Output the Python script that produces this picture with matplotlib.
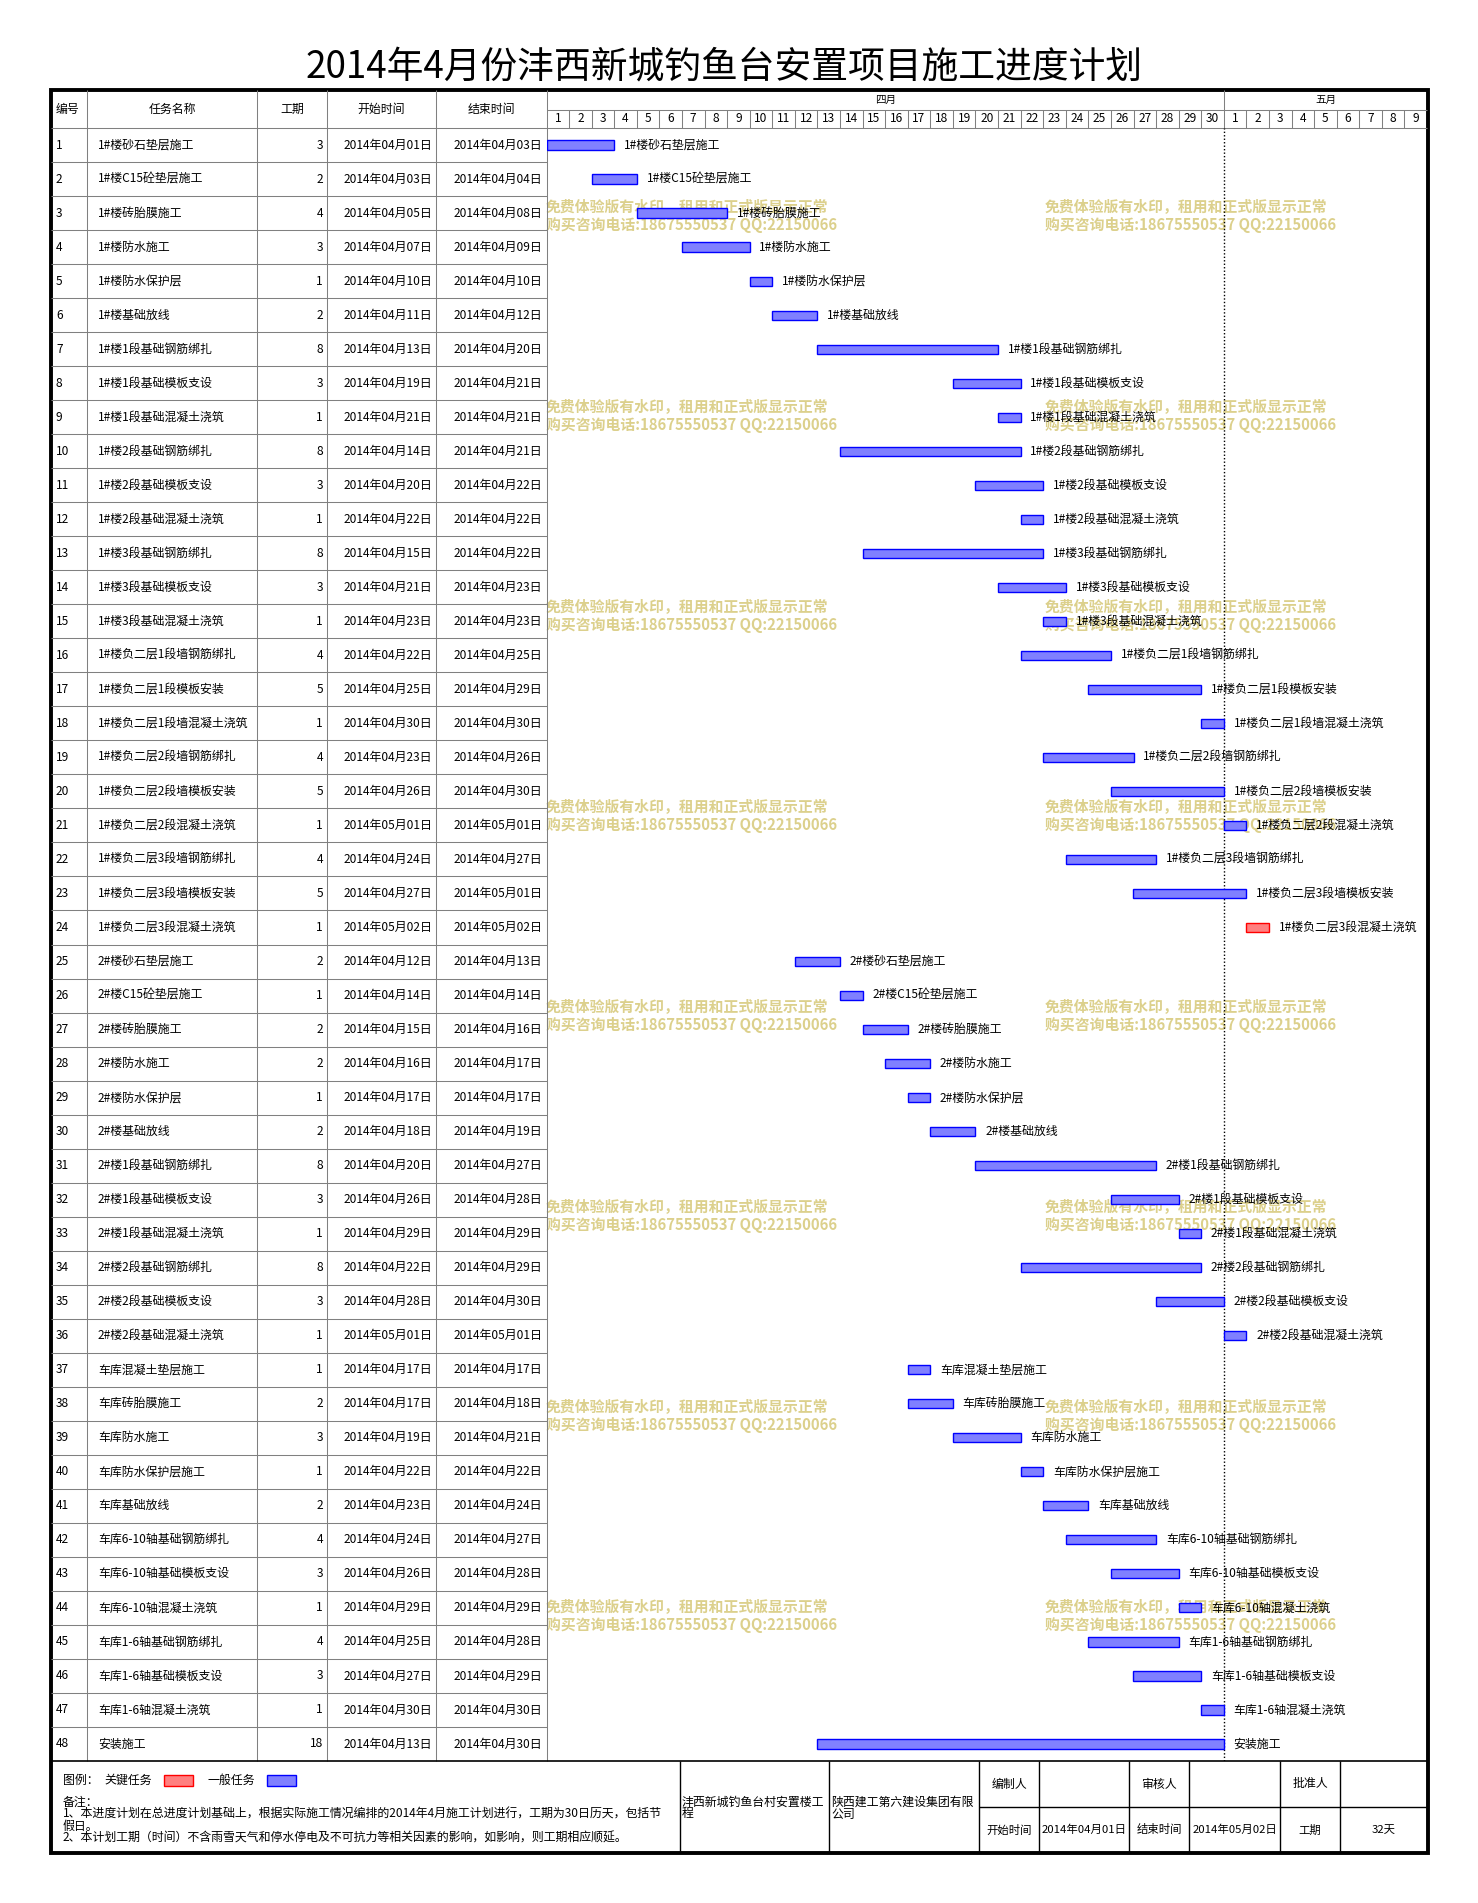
import matplotlib.pyplot as plt
from matplotlib.patches import Rectangle

plt.rcParams['font.family'] = ['Noto Sans CJK SC', 'DejaVu Sans']

# ---- data ----
title = "2014年4月份沣西新城钓鱼台安置项目施工进度计划"

task_names = [
    "1#楼砂石垫层施工", "1#楼C15砼垫层施工", "1#楼砖胎膜施工", "1#楼防水施工",
    "1#楼防水保护层", "1#楼基础放线", "1#楼1段基础钢筋绑扎", "1#楼1段基础模板支设",
    "1#楼1段基础混凝土浇筑", "1#楼2段基础钢筋绑扎", "1#楼2段基础模板支设", "1#楼2段基础混凝土浇筑",
    "1#楼3段基础钢筋绑扎", "1#楼3段基础模板支设", "1#楼3段基础混凝土浇筑", "1#楼负二层1段墙钢筋绑扎",
    "1#楼负二层1段模板安装", "1#楼负二层1段墙混凝土浇筑", "1#楼负二层2段墙钢筋绑扎", "1#楼负二层2段墙模板安装",
    "1#楼负二层2段混凝土浇筑", "1#楼负二层3段墙钢筋绑扎", "1#楼负二层3段墙模板安装", "1#楼负二层3段混凝土浇筑",
    "2#楼砂石垫层施工", "2#楼C15砼垫层施工", "2#楼砖胎膜施工", "2#楼防水施工",
    "2#楼防水保护层", "2#楼基础放线", "2#楼1段基础钢筋绑扎", "2#楼1段基础模板支设",
    "2#楼1段基础混凝土浇筑", "2#楼2段基础钢筋绑扎", "2#楼2段基础模板支设", "2#楼2段基础混凝土浇筑",
    "车库混凝土垫层施工", "车库砖胎膜施工", "车库防水施工", "车库防水保护层施工",
    "车库基础放线", "车库6-10轴基础钢筋绑扎", "车库6-10轴基础模板支设", "车库6-10轴混凝土浇筑",
    "车库1-6轴基础钢筋绑扎", "车库1-6轴基础模板支设", "车库1-6轴混凝土浇筑", "安装施工",
]
durations = [3, 2, 4, 3, 1, 2, 8, 3, 1, 8, 3, 1, 8, 3, 1, 4, 5, 1, 4, 5, 1, 4, 5, 1,
             2, 1, 2, 2, 1, 2, 8, 3, 1, 8, 3, 1, 1, 2, 3, 1, 2, 4, 3, 1, 4, 3, 1, 18]
start_dates = [
    "04-01", "04-03", "04-05", "04-07", "04-10", "04-11", "04-13", "04-19",
    "04-21", "04-14", "04-20", "04-22", "04-15", "04-21", "04-23", "04-22",
    "04-25", "04-30", "04-23", "04-26", "05-01", "04-24", "04-27", "05-02",
    "04-12", "04-14", "04-15", "04-16", "04-17", "04-18", "04-20", "04-26",
    "04-29", "04-22", "04-28", "05-01", "04-17", "04-17", "04-19", "04-22",
    "04-23", "04-24", "04-26", "04-29", "04-25", "04-27", "04-30", "04-13",
]
end_dates = [
    "04-03", "04-04", "04-08", "04-09", "04-10", "04-12", "04-20", "04-21",
    "04-21", "04-21", "04-22", "04-22", "04-22", "04-23", "04-23", "04-25",
    "04-29", "04-30", "04-26", "04-30", "05-01", "04-27", "05-01", "05-02",
    "04-13", "04-14", "04-16", "04-17", "04-17", "04-19", "04-27", "04-28",
    "04-29", "04-29", "04-30", "05-01", "04-17", "04-18", "04-21", "04-22",
    "04-24", "04-27", "04-28", "04-29", "04-28", "04-29", "04-30", "04-30",
]
critical_ids = [24]

month_names = ["四月", "五月"]
month_days = [30, 9]

header_cols = ["编号", "任务名称", "工期", "开始时间", "结束时间"]

watermark = ["免费体验版有水印，租用和正式版显示正常", "购买咨询电话:18675550537 QQ:22150066"]

legend_items = [("关键任务", "#ff8080", "#ff0000"), ("一般任务", "#8080ff", "#0000ff")]
notes = [
    "备注：",
    "1、本进度计划在总进度计划基础上，根据实际施工情况编排的2014年4月施工计划进行，工期为30日历天，包括节",
    "假日。",
    "2、本计划工期（时间）不含雨雪天气和停水停电及不可抗力等相关因素的影响，如影响，则工期相应顺延。",
]
project_name = ["沣西新城钓鱼台村安置楼工", "程"]
company_name = ["陕西建工第六建设集团有限", "公司"]
sign_top = ["编制人", "", "审核人", "", "批准人", ""]
sign_bottom = ["开始时间", "2014年04月01日", "结束时间", "2014年05月02日", "工期", "32天"]


def day_index(s):
    m, d = s.split("-")
    return int(d) if m == "04" else 30 + int(d)


def cn_date(s):
    m, d = s.split("-")
    return "2014年%s月%s日" % (m, d)


# ---- layout (pixels) ----
W, H = 1478, 1903
X0, X1 = 51, 1428
col_x = [51, 87, 257, 327, 436, 546.5]
G0, G1 = 546.5, 1427
Y_TOP, Y_MON, Y_HDR, Y_END, Y_BOT = 90, 110, 128, 1761, 1853
n_rows = len(task_names)
row_h = (Y_END - Y_HDR) / n_rows
n_days = sum(month_days)
dw = (G1 - G0) / n_days
GRAY = "#808080"
FS = 8.6

fig = plt.figure(figsize=(W / 100, H / 100), dpi=100)
base = fig.add_axes([0, 0, 1, 1])
base.set_xlim(0, W)
base.set_ylim(H, 0)
base.axis("off")


def hl(y, xa, xb, c=GRAY, lw=0.75):
    base.plot([xa, xb], [y, y], color=c, lw=lw, solid_capstyle="butt")


def vl(x, ya, yb, c=GRAY, lw=0.75):
    base.plot([x, x], [ya, yb], color=c, lw=lw, solid_capstyle="butt")


base.text(724, 67, title, fontsize=26.5, ha="center", va="center")

# watermark (behind everything)
for k in range(8):
    y = 207 + k * 200
    for wx in (546, 1045):
        base.text(wx, y, watermark[0], color="#dcd08c", fontsize=10.7, fontweight="bold",
                  ha="left", va="center", zorder=0)
        base.text(wx, y + 18, watermark[1], color="#dcd08c", fontsize=10.7, fontweight="bold",
                  ha="left", va="center", zorder=0)

# table grid
for x in col_x[1:]:
    vl(x, Y_TOP, Y_END)
for i in range(n_rows):
    hl(Y_HDR + i * row_h, X0, G0)
hl(Y_HDR, G0, G1)
hl(Y_MON, G0, G1)
for d in range(1, n_days):
    x = G0 + d * dw
    vl(x, Y_TOP if d == month_days[0] else Y_MON, Y_HDR)

# header text
hy = (Y_TOP + Y_HDR) / 2
base.text(col_x[0] + 5, hy, header_cols[0], fontsize=FS, ha="left", va="center")
for j in range(1, 5):
    base.text((col_x[j] + col_x[j + 1]) / 2, hy, header_cols[j], fontsize=FS, ha="center", va="center")
off = 0
for name, nd in zip(month_names, month_days):
    base.text(G0 + (off + nd / 2) * dw, (Y_TOP + Y_MON) / 2, name, fontsize=7.6, ha="center", va="center")
    for d in range(nd):
        base.text(G0 + (off + d + 0.5) * dw, (Y_MON + Y_HDR) / 2, str(d + 1), fontsize=FS,
                  ha="center", va="center")
    off += nd

# table rows
for i in range(n_rows):
    y = Y_HDR + (i + 0.5) * row_h
    base.text(col_x[0] + 5, y, str(i + 1), fontsize=FS, ha="left", va="center")
    base.text(col_x[1] + 11, y, task_names[i], fontsize=FS, ha="left", va="center")
    base.text(col_x[3] - 4, y, str(durations[i]), fontsize=FS, ha="right", va="center")
    base.text(col_x[4] - 4, y, cn_date(start_dates[i]), fontsize=FS, ha="right", va="center")
    base.text(col_x[5] - 4, y, cn_date(end_dates[i]), fontsize=FS, ha="right", va="center")

# gantt axes
gx = fig.add_axes([G0 / W, 1 - Y_END / H, (G1 - G0) / W, (Y_END - Y_HDR) / H])
gx.set_xlim(0, n_days)
gx.set_ylim(n_rows, 0)
gx.axis("off")
gx.axvline(month_days[0], color="black", ls=(0, (1, 1.5)), lw=1.0)
for i in range(n_rows):
    s = day_index(start_dates[i]) - 1
    e = day_index(end_dates[i])
    crit = (i + 1) in critical_ids
    fc, ec = (legend_items[0][1], legend_items[0][2]) if crit else (legend_items[1][1], legend_items[1][2])
    gx.barh(i + 0.5, e - s, left=s, height=0.27, color=fc, edgecolor=ec, linewidth=1.0, zorder=2)
    gx.annotate(task_names[i], (e, i + 0.5), xytext=(7, 0), textcoords="offset points",
                fontsize=FS, ha="left", va="center", zorder=3)

# footer
hl(Y_END, X0, X1, c="black", lw=1.2)
fmid = (Y_END + Y_BOT) / 2
foot_x = [680, 829, 979, 1039, 1129, 1189, 1280, 1340, 1428]
for x in foot_x[:-1]:
    vl(x, Y_END, Y_BOT, c="black", lw=1.0)
hl(1807, foot_x[2], X1, c="black", lw=1.0)

base.text(63, 1780, "图例：", fontsize=FS, ha="left", va="center")
lx = 104
for lab, fc, ec in legend_items:
    base.text(lx, 1780, lab, fontsize=FS, ha="left", va="center")
    base.add_patch(Rectangle((lx + 60, 1775), 29, 11, facecolor=fc, edgecolor=ec, lw=1.0))
    lx += 103
for k, line in enumerate(notes):
    base.text(63, 1802 + k * 12.2, line, fontsize=FS, ha="left", va="center")
for k in range(2):
    base.text(foot_x[0] + 2, 1802 + k * 12, project_name[k], fontsize=FS, ha="left", va="center")
    base.text(foot_x[1] + 2, 1802 + k * 12, company_name[k], fontsize=FS, ha="left", va="center")
for j in range(6):
    cx = (foot_x[j + 2] + foot_x[j + 3]) / 2
    base.text(cx, (Y_END + 1807) / 2, sign_top[j], fontsize=FS, ha="center", va="center")
    base.text(cx, (1807 + Y_BOT) / 2, sign_bottom[j], fontsize=8.2, ha="center", va="center")

# outer thick border
base.add_patch(Rectangle((X0, Y_TOP), X1 - X0, Y_BOT - Y_TOP, fill=False, edgecolor="black", lw=2.8))

fig.savefig("out.png", dpi=100)
